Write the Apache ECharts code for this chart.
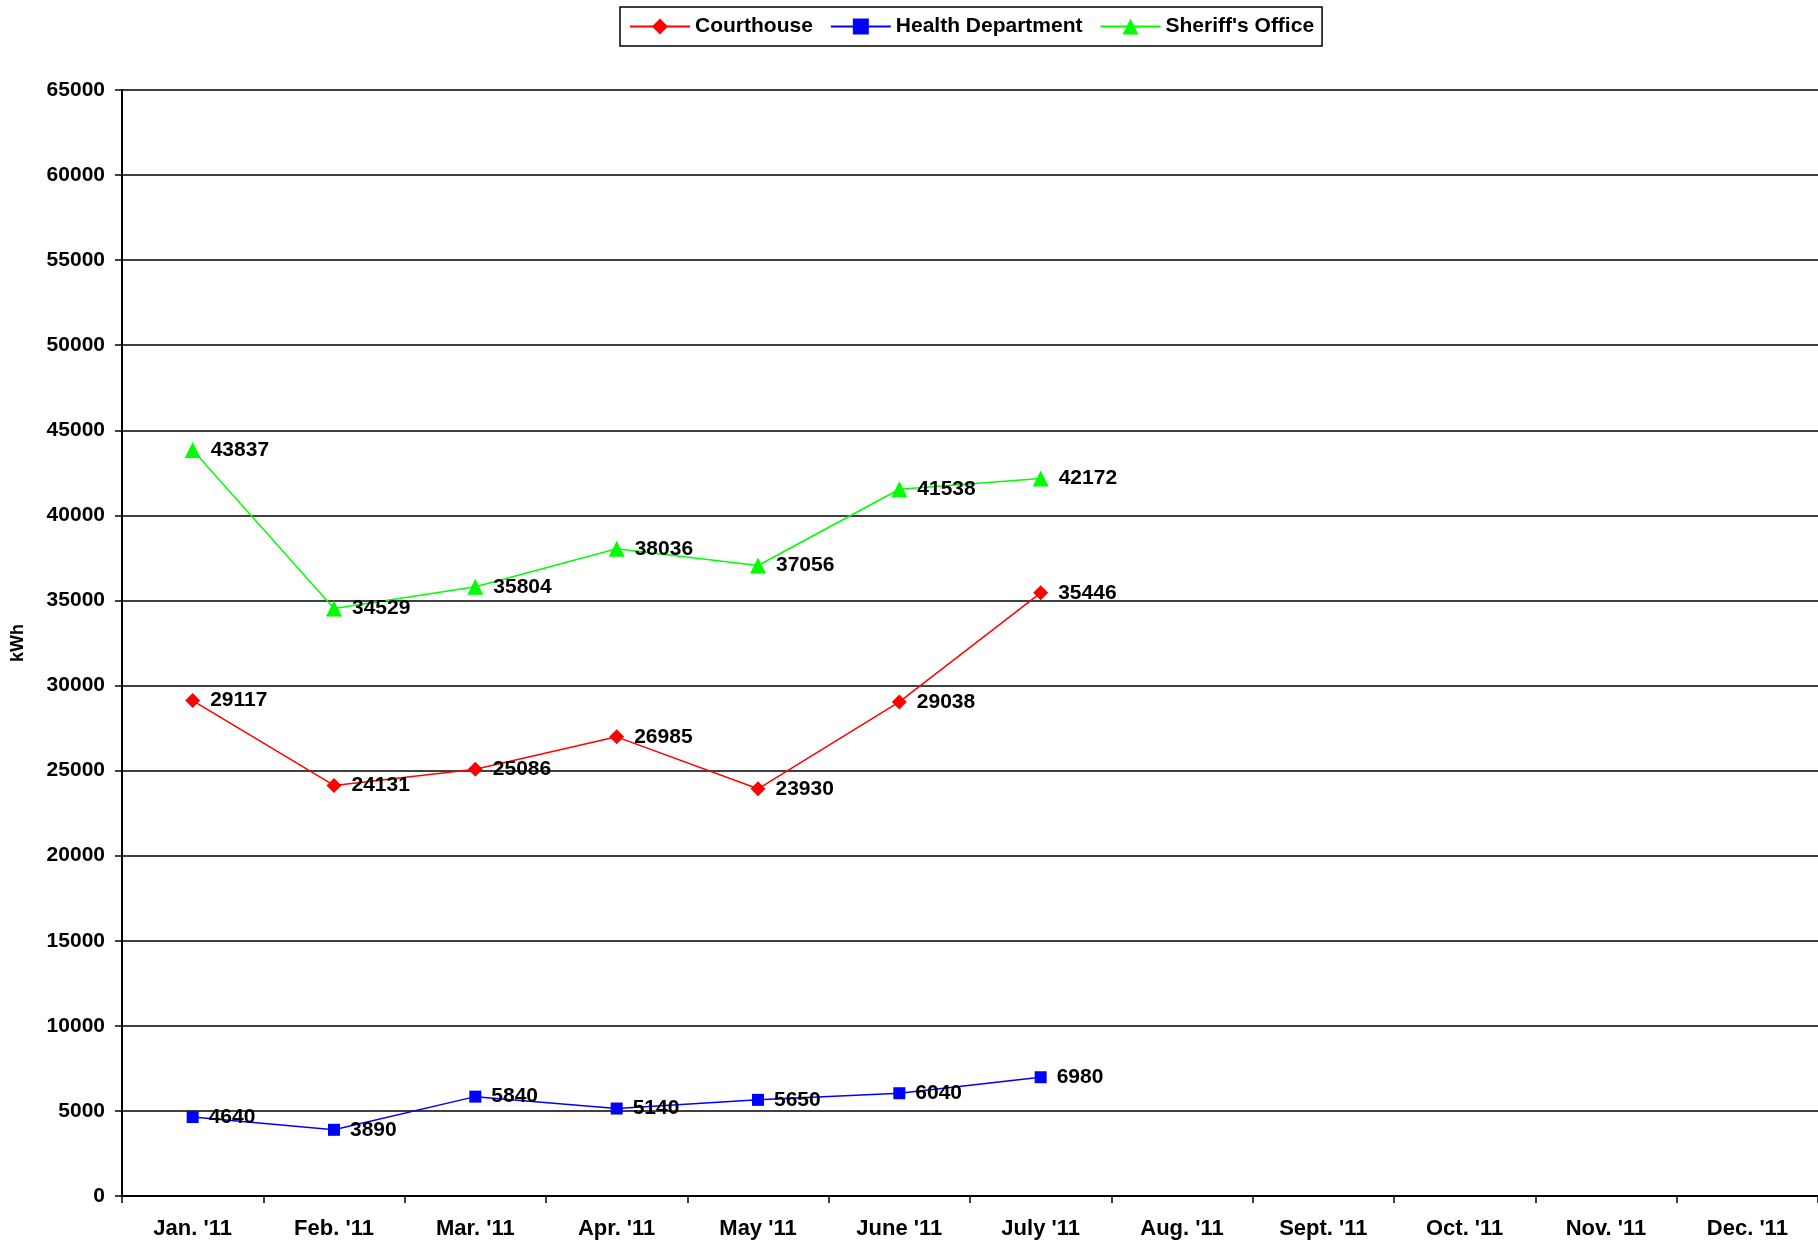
<!DOCTYPE html>
<html>
<head>
<meta charset="utf-8">
<script src="https://cdn.jsdelivr.net/npm/echarts@6/dist/echarts.min.js"></script>
<style>
  html, body { margin: 0; padding: 0; background: #fff; }
  #chart { width: 1818px; height: 1241px; }
</style>
</head>
<body>
<div id="chart"></div>
<script>
const months = ["Jan. '11", "Feb. '11", "Mar. '11", "Apr. '11", "May '11", "June '11",
  "July '11", "Aug. '11", "Sept. '11", "Oct. '11", "Nov. '11", "Dec. '11"];
const courthouse = [29117, 24131, 25086, 26985, 23930, 29038, 35446, null, null, null, null, null];
const healthDept = [4640, 3890, 5840, 5140, 5650, 6040, 6980, null, null, null, null, null];
const sheriff = [43837, 34529, 35804, 38036, 37056, 41538, 42172, null, null, null, null, null];

const font = "Arial, 'Liberation Sans', sans-serif";
const chart = echarts.init(document.getElementById("chart"));

function lineSeries(name, data, color, symbol, size) {
  return {
    name: name,
    type: "line",
    data: data,
    symbol: symbol,
    symbolSize: size,
    showAllSymbol: true,
    lineStyle: { color: color, width: 1.5 },
    itemStyle: { color: color },
    label: {
      show: true,
      position: "right",
      distance: 10,
      color: "#000",
      fontFamily: font,
      fontWeight: "bold",
      fontSize: 21
    },
    emphasis: { disabled: true },
    animation: false
  };
}

chart.setOption({
  animation: false,
  legend: {
    top: 7,
    left: 620,
    itemWidth: 60,
    itemHeight: 20,
    itemGap: 17,
    padding: [9, 8, 9, 9],
    borderColor: "#000",
    borderWidth: 1.5,
    textStyle: { fontFamily: font, fontWeight: "bold", fontSize: 21, color: "#000" },
    data: ["Courthouse", "Health Department", "Sheriff's Office"]
  },
  grid: { left: 122, top: 90, width: 1707, height: 1106 },
  xAxis: {
    type: "category",
    data: months,
    boundaryGap: true,
    axisLine: { lineStyle: { color: "#000", width: 2 } },
    axisTick: { show: true, inside: false, length: 7, lineStyle: { color: "#000", width: 1.5 } },
    axisLabel: { margin: 22, color: "#000", fontFamily: font, fontWeight: "bold", fontSize: 22, interval: 0 }
  },
  yAxis: {
    type: "value",
    name: "kWh",
    nameLocation: "middle",
    nameGap: 95,
    nameTextStyle: { fontFamily: font, fontWeight: "bold", fontSize: 18, color: "#000" },
    min: 0,
    max: 65000,
    interval: 5000,
    axisLine: { show: true, lineStyle: { color: "#000", width: 2 } },
    axisTick: { show: true, length: 7, lineStyle: { color: "#000", width: 1.5 } },
    axisLabel: {
      margin: 17, color: "#000", fontFamily: font, fontWeight: "bold", fontSize: 21,
      formatter: function (v) { return String(v); }
    },
    splitLine: { show: true, lineStyle: { color: "#000", width: 1.5 } }
  },
  series: [
    lineSeries("Courthouse", courthouse, "#ff0000", "diamond", 15),
    lineSeries("Health Department", healthDept, "#0000ff", "rect", 12),
    lineSeries("Sheriff's Office", sheriff, "#00ff00", "triangle", 16)
  ]
});
</script>
</body>
</html>
